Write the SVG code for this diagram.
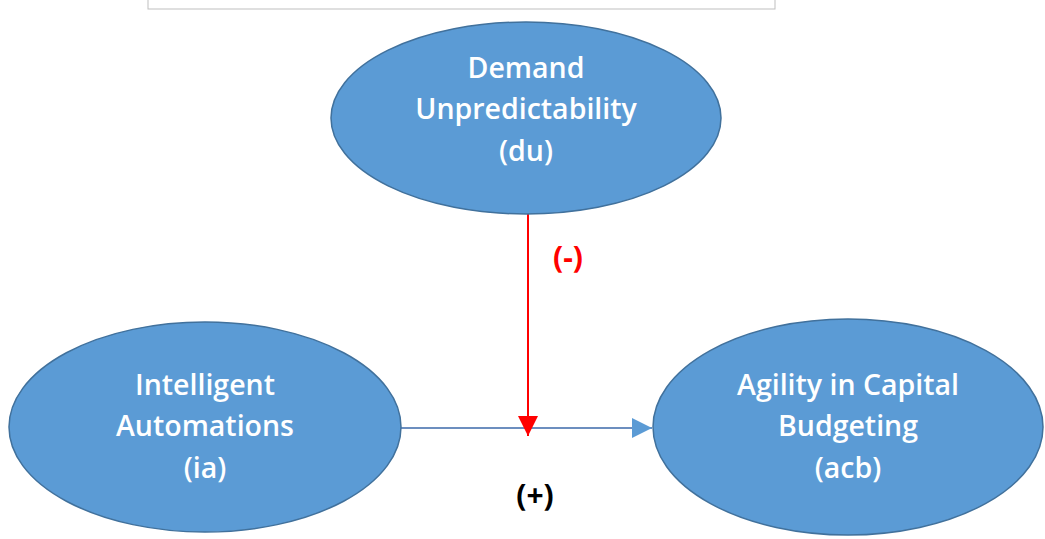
<svg xmlns="http://www.w3.org/2000/svg" width="1045" height="539" viewBox="0 0 1045 539">
<style>
.node ellipse{fill:#5B9BD5;stroke:#41719C;stroke-width:1.5}
.node text{font-family:"Open Sans","Liberation Sans",sans-serif;font-size:28.5px;font-weight:600;fill:#FFFFFF;text-anchor:middle}
.lbl{font-family:"Open Sans","Liberation Sans",sans-serif;font-size:30px;font-weight:700;text-anchor:middle}
</style>
<defs>
<marker id="aBlue" viewBox="0 0 20 20" refX="20" refY="10" markerWidth="20" markerHeight="20" markerUnits="userSpaceOnUse" orient="auto"><path d="M0,0 L20,10 L0,20 Z" fill="#5B9BD5"/></marker>
<marker id="aRed" viewBox="0 0 20 20" refX="20" refY="10" markerWidth="20" markerHeight="20" markerUnits="userSpaceOnUse" orient="auto"><path d="M0,0 L20,10 L0,20 Z" fill="#FF0000"/></marker>
</defs>
<rect x="0" y="0" width="1045" height="539" fill="#FFFFFF"/>
<rect x="148" y="-5" width="627" height="14" fill="#FFFFFF" stroke="#BFBFBF" stroke-width="1"/>
<g id="connectors">
<line x1="401" y1="428" x2="652" y2="428" stroke="#6C8EBF" stroke-width="2" marker-end="url(#aBlue)"/>
<line x1="528" y1="214" x2="528" y2="436" stroke="#FF0000" stroke-width="2" marker-end="url(#aRed)"/>
<text class="lbl" x="568" y="268" fill="#FF0000">(-)</text>
<text class="lbl" x="535" y="506" fill="#000000">(+)</text>
</g>
<g id="du" class="node">
<ellipse cx="526" cy="118" rx="195" ry="96"/>
<text x="526" y="78">Demand</text>
<text x="526" y="119">Unpredictability</text>
<text x="526" y="161">(du)</text>
</g>
<g id="ia" class="node">
<ellipse cx="205" cy="427" rx="196" ry="105"/>
<text x="205" y="395">Intelligent</text>
<text x="205" y="436">Automations</text>
<text x="205" y="478">(ia)</text>
</g>
<g id="acb" class="node">
<ellipse cx="848" cy="427" rx="195" ry="108"/>
<text x="848" y="395">Agility in Capital</text>
<text x="848" y="436">Budgeting</text>
<text x="848" y="478">(acb)</text>
</g>
</svg>
